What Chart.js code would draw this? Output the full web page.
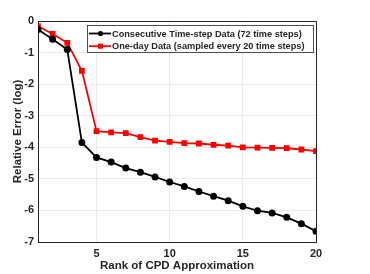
<!DOCTYPE html>
<html>
<head>
<meta charset="utf-8">
<script src="https://cdn.jsdelivr.net/npm/chart.js@4"></script>
<style>
    html, body { margin: 0; padding: 0; background: #fff; }
    #wrap { width: 370px; height: 274px; }
</style>
</head>
<body>
<div id="wrap"><canvas id="errChart"></canvas></div>
<script>
const ranks = [1, 2, 3, 4, 5, 6, 7, 8, 9, 10, 11, 12, 13, 14, 15, 16, 17, 18, 19, 20];
const consecutiveErr = [-0.27, -0.58, -0.9, -3.85, -4.32, -4.47, -4.66, -4.79, -4.94, -5.1, -5.24, -5.4, -5.55, -5.69, -5.87, -6.01, -6.08, -6.22, -6.42, -6.66];
const oneDayErr = [-0.16, -0.41, -0.69, -1.58, -3.49, -3.53, -3.55, -3.68, -3.79, -3.83, -3.87, -3.88, -3.92, -3.95, -4.0, -4.01, -4.02, -4.03, -4.07, -4.12];
const xTicks = [5, 10, 15, 20];
const yTicks = [0, -1, -2, -3, -4, -5, -6, -7];
const seriesLabels = [
    "Consecutive Time-step Data (72 time steps)",
    "One-day Data (sampled every 20 time steps)"
];

const textColor = "#262626";
const font = "Liberation Sans, Arial, sans-serif";

function toPoints(values) {
    return ranks.map((r, i) => ({ x: r, y: values[i] }));
}

// legend sits inside the axes box (top right), like matlab "northeast"
// also draws the top/right edges of the axes box
const insideLegend = {
    id: "insideLegend",
    afterDraw(chart) {
        const ctx = chart.ctx;
        const area = chart.chartArea;

        ctx.save();
        ctx.strokeStyle = textColor;
        ctx.lineWidth = 1;
        ctx.beginPath();
        ctx.moveTo(area.left, area.top + 0.5);
        ctx.lineTo(area.right + 0.5, area.top + 0.5);
        ctx.lineTo(area.right + 0.5, area.bottom);
        ctx.stroke();

        const boxW = 226, boxH = 27;
        const bx = area.right - 3 - boxW;
        const by = area.top + 4;
        ctx.fillStyle = "#fff";
        ctx.fillRect(bx, by, boxW, boxH);
        ctx.lineWidth = 0.8;
        ctx.strokeRect(bx + 0.5, by + 0.5, boxW, boxH);

        chart.data.datasets.forEach((ds, i) => {
            const cy = by + 8.5 + i * 12.7;
            ctx.strokeStyle = ds.borderColor;
            ctx.lineWidth = 1.8;
            ctx.beginPath();
            ctx.moveTo(bx + 2, cy);
            ctx.lineTo(bx + 24, cy);
            ctx.stroke();
            ctx.fillStyle = ds.borderColor;
            if (ds.pointStyle === "rect") {
                ctx.fillRect(bx + 13.5 - 2.5, cy - 2.5, 5, 5);
            } else {
                ctx.beginPath();
                ctx.arc(bx + 13.5, cy, 2.6, 0, Math.PI * 2);
                ctx.fill();
            }
            ctx.fillStyle = textColor;
            ctx.font = "bold 9.2px " + font;
            ctx.textBaseline = "middle";
            ctx.fillText(seriesLabels[i], bx + 25, cy + 0.5);
        });
        ctx.restore();
    }
};

const ctx = document.getElementById("errChart").getContext("2d");
new Chart(ctx, {
    type: "line",
    data: {
        datasets: [
            {
                label: seriesLabels[0],
                data: toPoints(consecutiveErr),
                borderColor: "#000000",
                backgroundColor: "#000000",
                borderWidth: 1.8,
                pointStyle: "circle",
                pointRadius: 2.6,
                fill: false,
            },
            {
                label: seriesLabels[1],
                data: toPoints(oneDayErr),
                borderColor: "#ff0000",
                backgroundColor: "#ff0000",
                borderWidth: 1.8,
                pointStyle: "rect",
                pointRadius: 2.8,
                fill: false,
            },
        ],
    },
    plugins: [insideLegend],
    options: {
        responsive: true,
        maintainAspectRatio: false,
        animation: false,
        layout: {
            padding: { left: 0, right: 54, top: 21, bottom: 0 },
        },
        plugins: {
            legend: { display: false },
            tooltip: { enabled: false },
        },
        scales: {
            x: {
                type: "linear",
                min: 1,
                max: 20,
                afterBuildTicks: (scale) => {
                    scale.ticks = xTicks.map((v) => ({ value: v }));
                },
                afterFit: (scale) => {
                    scale.height = 32;
                },
                grid: {
                    color: "#e6e6e6",
                    lineWidth: 0.8,
                    drawTicks: false,
                },
                border: { color: textColor, width: 1 },
                ticks: {
                    color: textColor,
                    font: { family: font, size: 11, weight: "bold" },
                    padding: 5,
                    maxRotation: 0,
                },
                title: {
                    display: true,
                    text: "Rank of CPD Approximation",
                    color: textColor,
                    font: { family: font, size: 11.5, weight: "bold" },
                    padding: { top: 0, bottom: 1 },
                },
            },
            y: {
                min: -7,
                max: 0,
                afterBuildTicks: (scale) => {
                    scale.ticks = yTicks.map((v) => ({ value: v }));
                },
                afterFit: (scale) => {
                    scale.width = 38;
                },
                grid: {
                    color: "#e6e6e6",
                    lineWidth: 0.8,
                    drawTicks: false,
                },
                border: { color: textColor, width: 1 },
                ticks: {
                    color: textColor,
                    font: { family: font, size: 11, weight: "bold" },
                    padding: 4,
                },
                title: {
                    display: true,
                    text: "Relative Error (log)",
                    color: textColor,
                    font: { family: font, size: 11.5, weight: "bold" },
                    padding: { top: 11, bottom: 0 },
                },
            },
        },
    },
});
</script>
</body>
</html>
